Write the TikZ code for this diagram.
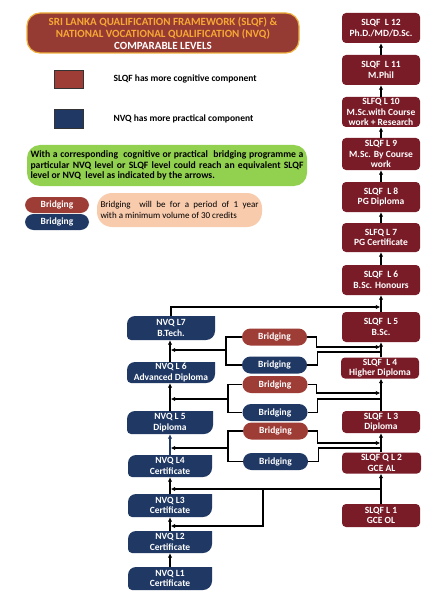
\documentclass[tikz,border=0pt]{standalone}
\usepackage{fontspec}
\setmainfont{Carlito}
\usetikzlibrary{arrows.meta}

\definecolor{slqfred}{RGB}{122,28,40}
\definecolor{nvqblue}{RGB}{31,56,100}
\definecolor{bridgered}{RGB}{158,60,54}
\definecolor{titlebrown}{RGB}{150,58,52}
\definecolor{titlegold}{RGB}{240,176,60}
\definecolor{titleorange}{RGB}{247,168,52}
\definecolor{notegreen}{RGB}{146,208,80}
\definecolor{notepeach}{RGB}{248,203,173}

\begin{document}
\begin{tikzpicture}[
  x=1pt, y=1pt,
  >={Latex[length=4.5pt,width=4.5pt]},
  every node/.style={font=\fontsize{9.5}{10.5}\selectfont\bfseries},
  link/.style={line width=1.4pt, black},
  side/.style={link, ->, shorten >=0.7pt},
  slqf/.style={fill=slqfred, rounded corners=4pt, text=white, align=center,
    minimum width=78pt, inner sep=0pt},
  nvq/.style={text=white, align=center, minimum width=88pt, inner sep=0pt,
    path picture={
      \fill[nvqblue] (path picture bounding box.north east)
        -- ([yshift=9pt]path picture bounding box.south east)
        arc[start angle=0, end angle=-90, radius=9pt]
        -- ([xshift=4pt]path picture bounding box.south west)
        arc[start angle=270, end angle=180, radius=4pt]
        -- ([yshift=-8pt]path picture bounding box.north west)
        arc[start angle=180, end angle=90, radius=8pt]
        -- cycle;}},
  bridge/.style={rounded corners=8.5pt, text=white, minimum width=65pt,
    minimum height=17pt, inner sep=0pt}
]
  \useasboundingbox (0,0) rectangle (446,-604);
  \fill[white] (0,0) rectangle (446,-604);

  % title and key
  \node[fill=titlebrown, draw=titlegold, line width=1.2pt, rounded corners=13pt,
    minimum width=272pt, minimum height=40pt, text=titleorange, align=center,
    inner sep=0pt, font=\fontsize{11}{12}\selectfont\bfseries] (title) at (163,-33)
    {SRI LANKA QUALIFICATION FRAMEWORK (SLQF) \&\\
     NATIONAL VOCATIONAL QUALIFICATION (NVQ)\\
     \textcolor{white}{COMPARABLE LEVELS}};

  \node[draw=black!80, fill=bridgered, minimum width=29pt, minimum height=18pt] (keyslqf) at (68.5,-79) {};
  \node[anchor=west] (keyslqftext) at (110,-79) {SLQF has more cognitive component};
  \node[draw=black!80, fill=nvqblue, minimum width=29pt, minimum height=19pt] (keynvq) at (68.5,-118.5) {};
  \node[anchor=west] (keynvqtext) at (110,-119) {NVQ has more practical component};

  \node[fill=notegreen, rounded corners=13pt, minimum width=280pt, minimum height=41pt,
    text width=273pt, align=justify, inner sep=0pt,
    font=\fontsize{9.7}{10.5}\selectfont\bfseries] (note) at (167,-165.5)
    {With a corresponding\ \ cognitive or practical\ \ bridging programme a\linebreak
     particular NVQ level or SLQF level could reach an equivalent SLQF\linebreak
     level or NVQ\ \ level as indicated by the arrows.};

  \node[bridge, fill=bridgered, minimum width=64pt, minimum height=16pt] (keybr) at (57,-205) {Bridging};
  \node[bridge, fill=nvqblue, minimum width=64pt, minimum height=16pt] (keybb) at (57,-222) {Bridging};
  \node[fill=notepeach, rounded corners=15pt, minimum width=165pt, minimum height=34pt,
    text width=158pt, align=justify, inner sep=0pt,
    font=\fontsize{9}{10.5}\selectfont] (keynote) at (179.5,-210)
    {Bridging\ \ will be for a period of 1 year\linebreak
     with a minimum volume of 30 credits};

  % SLQF levels
  \node[slqf, minimum height=30pt] (s12) at (381,-28) {SLQF~~L 12\\Ph.D./MD/D.Sc.};
  \node[slqf, minimum height=30pt] (s11) at (381,-70) {SLQF~~L 11\\M.Phil};
  \node[slqf, minimum height=30pt] (s10) at (381,-112) {SLFQ L 10\\M.Sc.with Course\\work + Research};
  \node[slqf, minimum height=32pt] (s9) at (381,-154) {SLQF L 9\\M.Sc. By Course\\work};
  \node[slqf, minimum height=30pt] (s8) at (381,-197) {SLQF~~L 8\\PG Diploma};
  \node[slqf, minimum height=29pt] (s7) at (381,-237.5) {SLFQ L 7\\PG Certificate};
  \node[slqf, minimum height=30pt] (s6) at (381,-280) {SLQF~~L 6\\B.Sc. Honours};
  \node[slqf, minimum height=30pt] (s5) at (381,-327) {SLQF~~L 5\\B.Sc.};
  \node[slqf, minimum height=21pt] (s4) at (380,-368) {SLQF~~L 4\\Higher Diploma};
  \node[slqf, minimum height=22pt] (s3) at (381,-422) {SLQF~~L 3\\Diploma};
  \node[slqf, minimum height=21pt, minimum width=79pt] (s2) at (381.5,-463) {SLQF Q L 2\\GCE AL};
  \node[slqf, minimum height=23pt] (s1) at (381,-515.5) {SLQF L 1\\GCE OL};

  % NVQ levels
  \node[nvq, minimum height=24pt] (n7) at (171,-328) {NVQ L7\\B.Tech.};
  \node[nvq, minimum height=21pt] (n6) at (171,-372.5) {NVQ L 6\\Advanced Diploma};
  \node[nvq, minimum height=23pt, minimum width=86pt] (n5) at (170,-422.5) {NVQ L 5\\Diploma};
  \node[nvq, minimum height=22pt, minimum width=84pt] (n4) at (170,-466) {NVQ L4\\Certificate};
  \node[nvq, minimum height=23pt, minimum width=84pt] (n3) at (170,-505.5) {NVQ L3\\Certificate};
  \node[nvq, minimum height=22pt, minimum width=84pt] (n2) at (170,-542) {NVQ L2\\Certificate};
  \node[nvq, minimum height=23pt, minimum width=84pt] (n1) at (170,-578.5) {NVQ L1\\Certificate};

  % bridging programmes
  \node[bridge, fill=bridgered] (b1) at (274.5,-337) {Bridging};
  \node[bridge, fill=nvqblue] (b2) at (274.5,-365) {Bridging};
  \node[bridge, fill=bridgered] (b3) at (275,-384.5) {Bridging};
  \node[bridge, fill=nvqblue] (b4) at (275,-412.5) {Bridging};
  \node[bridge, fill=bridgered] (b5) at (275.5,-431) {Bridging};
  \node[bridge, fill=nvqblue] (b6) at (275.5,-461.5) {Bridging};

  \coordinate (t6) at (381,-307);
  \coordinate (t5) at (381,-347);
  \coordinate (f4) at (381,-352);
  \coordinate (t4) at (381,-393);
  \coordinate (f3) at (381,-399);
  \coordinate (t3) at (381,-443);
  \coordinate (f2) at (381,-448);
  \coordinate (f1) at (381,-489);
  \coordinate (jl1) at (226,-350);
  \coordinate (jl2) at (228,-399);
  \coordinate (jl3) at (228,-448);
  \coordinate (jb) at (263,-489);
  \coordinate (a23) at (170,-526);

  \draw[side] (n7.north) |- (t6);

  \draw[link] (b1.west) -| (jl1) |- (b2.west);
  \draw[side] (jl1) -- (jl1 -| n5.north);
  \draw[side] (b1.east) -- ++(9,0) |- (t5);
  \draw[link] (b2.east) -- ++(10,0) |- (f4);

  \draw[link] (b3.west) -| (jl2) |- (b4.west);
  \draw[side] (jl2) -- (jl2 -| n5.north);
  \draw[side] (b3.east) -- ++(9,0) |- (t4);
  \draw[link] (b4.east) -- ++(10,0) |- (f3);

  \draw[link] (b5.west) -| (jl3) |- (b6.west);
  \draw[side] (jl3) -- (jl3 -| n5.north);
  \draw[side] (b5.east) -- ++(9,0) |- (t3);
  \draw[link] (b6.east) -- ++(10,0) |- (f2);

  \draw[side] (f1) -- (f1 -| n4.south);
  \draw[side] (jb) |- (a23);

  \foreach \a/\b in {s1/s2,s2/s3,s3/s4,s4/s5,s5/s6,s6/s7,s7/s8,s8/s9,s9/s10,s10/s11,s11/s12}
    \draw[link,->] (\a.north -| s5.north) -- (\b.south -| s5.south);
  \foreach \a/\b in {n1/n2,n2/n3,n3/n4,n5/n6,n6/n7}
    \draw[link,->] (\a.north -| n5.north) -- (\b.south -| n5.south);
  \draw[link,->,nvqblue] (n4.north) -- (n5.south);
\end{tikzpicture}
\end{document}
